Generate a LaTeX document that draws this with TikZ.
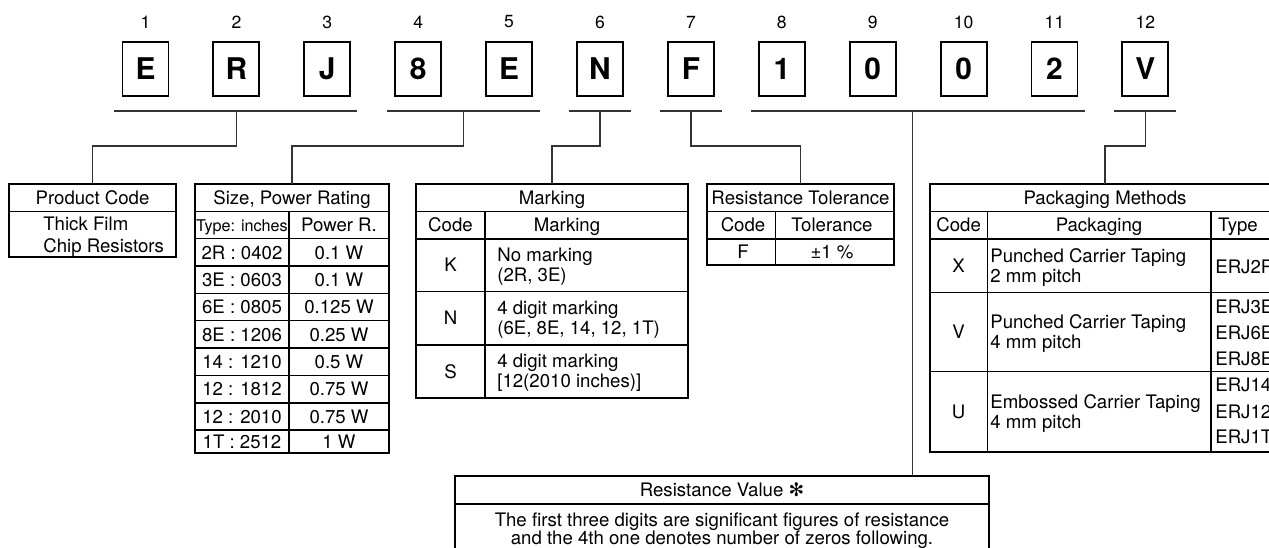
\documentclass[tikz,border=0pt]{standalone}
\usepackage{fontspec}
\setmainfont{TeX Gyre Heros}
\newfontfamily\symfont{DejaVu Sans}
\usetikzlibrary{calc}

\begin{document}
\begin{tikzpicture}[x=0.02cm,y=-0.02cm,
  codebox/.style={draw,line width=1.1pt,minimum width=0.92cm,minimum height=1.08cm,
    inner sep=0pt,font=\fontsize{17}{17}\selectfont\bfseries},
  posnum/.style={inner sep=0pt,font=\fontsize{10}{10}\selectfont},
  frame/.style={draw,line width=1.05pt,anchor=north west,inner sep=0pt,outer sep=0pt},
  rule/.style={line width=0.8pt},
  link/.style={line width=0.7pt,black!80},
  cell/.style={inner sep=0pt,text height=7.6pt,text depth=0pt,font=\fontsize{10.6}{12}\selectfont},
  lcell/.style={cell,anchor=west}]

  \useasboundingbox (0,0) rectangle (1269,548);
  \clip (0,0) rectangle (1269,548);

  % code characters and their positions
  \foreach \ch [count=\i] in {E,R,J,8,E,N,F,1,0,0,2,V} {
    \node[codebox] (c\i) at ({145.5+90.9*(\i-1)},69) {\ch};
    \node[posnum] (p\i) at ({145.5+90.9*(\i-1)},22) {\i};
  }

  % brackets under the groups
  \coordinate (ul) at (0,111);
  \draw[link] ($(c1.west|-ul)+(-8,0)$) -- ($(c3.east|-ul)+(6,0)$);
  \draw[link] ($(c4.west|-ul)+(-7,0)$) -- ($(c5.east|-ul)+(7,0)$);
  \draw[link] ($(c6.west|-ul)+(-7,0)$) -- ($(c6.east|-ul)+(7,0)$);
  \draw[link] ($(c7.west|-ul)+(-7,0)$) -- ($(c7.east|-ul)+(7,0)$);
  \draw[link] ($(c8.west|-ul)+(-7,0)$) -- ($(c11.east|-ul)+(7,0)$);
  \draw[link] ($(c12.west|-ul)+(-7,0)$) -- ($(c12.east|-ul)+(7,0)$);

  % table frames
  \node[frame,minimum width=3.34cm,minimum height=1.46cm] (prod) at (9,184) {};
  \node[frame,minimum width=3.88cm,minimum height=5.38cm] (size) at (195,184) {};
  \node[frame,minimum width=5.44cm,minimum height=4.28cm] (mark) at (416,184) {};
  \node[frame,minimum width=3.74cm,minimum height=1.62cm] (tol) at (707,184) {};
  \node[frame,minimum width=7.0cm,minimum height=5.36cm] (pack) at (930,184) {};
  \node[frame,minimum width=10.68cm,minimum height=2.0cm] (res) at (455,476) {};

  % connectors
  \coordinate (g2) at ($(c4|-ul)!0.5!(c5|-ul)$);
  \coordinate (g5) at ($(c9|-ul)!0.44!(c10|-ul)$);
  \draw[link] (c2|-ul) -- ++(0,35) -| (prod.north);
  \draw[link] (g2) -- ++(0,35) -| (size.north);
  \draw[link] (c6|-ul) -- ++(0,35) -| (mark.north);
  \draw[link] (c7|-ul) -- ++(0,35) -| (tol.north);
  \draw[link] (g5) -- (g5|-res.north);
  \draw[link] (c12|-ul) -- ++(0,35) -| (pack.north);

  % product code
  \draw[rule] (9,211.7) -- (176,211.7);
  \node[cell] (prodh) at (92.5,198) {Product Code};
  \node[lcell] (prod1) at (43,224) {Thick Film};
  \node[lcell] (prod2) at (43,246) {Chip Resistors};

  % size, power rating
  \foreach \k in {1,...,9}
    \draw[rule] (195,{184+27.35*\k}) -- (389,{184+27.35*\k});
  \draw[rule] (289,211.35) -- (289,453);
  \node[cell] (sizeh) at (292,198) {Size, Power Rating};
  \node[cell,font=\fontsize{9.2}{10}\selectfont] (sizet) at (242,225) {Type: inches};
  \node[cell] (sizep) at (339,225) {Power R.};
  \foreach \t/\p [count=\k from 2] in {2R : 0402/0.1 W,3E : 0603/0.1 W,
      6E : 0805/0.125 W,8E : 1206/0.25 W,14 : 1210/0.5 W,12 : 1812/0.75 W,
      12 : 2010/0.75 W,1T : 2512/1 W} {
    \node[cell] (st\k) at (242,{min(184+27.35*(\k+0.5),441.5)}) {\t};
    \node[cell] (sp\k) at (339,{min(184+27.35*(\k+0.5),441.5)}) {\p};
  }

  % marking
  \foreach \y in {211.7,239,291.7,345}
    \draw[rule] (416,\y) -- (688,\y);
  \draw[rule] (485,211.7) -- (485,398);
  \node[cell] (markh) at (552,198) {Marking};
  \node[cell] (markc) at (450.5,225) {Code};
  \node[cell] (markm) at (567,225) {Marking};
  \node[cell] (mk1) at (450.5,265.3) {K};
  \node[lcell] (mk1a) at (497,255) {No marking};
  \node[lcell] (mk1b) at (497,275) {(2R, 3E)};
  \node[cell] (mk2) at (450.5,318.3) {N};
  \node[lcell] (mk2a) at (497,308) {4 digit marking};
  \node[lcell] (mk2b) at (497,328) {(6E, 8E, 14, 12, 1T)};
  \node[cell] (mk3) at (450.5,371.5) {S};
  \node[lcell] (mk3a) at (497,361) {4 digit marking};
  \node[lcell] (mk3b) at (497,381) {[12(2010 inches)]};

  % resistance tolerance
  \draw[rule] (707,211.7) -- (894,211.7);
  \draw[rule] (707,239) -- (894,239);
  \draw[rule] (775.7,211.7) -- (775.7,265);
  \node[cell] (tolh) at (800.5,198) {Resistance Tolerance};
  \node[cell] (tolc) at (743,225) {Code};
  \node[cell] (tolt) at (832,225) {Tolerance};
  \node[cell] (tol1) at (743,252) {F};
  \node[cell] (tol2) at (832,252) {±1 \%};

  % packaging methods
  \foreach \y in {211.7,239,292.3,371.7}
    \draw[rule] (930,\y) -- (1280,\y);
  \draw[rule] (987.3,211.7) -- (987.3,452);
  \draw[rule] (1211,211.7) -- (1211,452);
  \node[cell] (packh) at (1105,198) {Packaging Methods};
  \node[cell] (packc) at (958.6,225) {Code};
  \node[cell] (packp) at (1099,225) {Packaging};
  \node[cell] (packt) at (1238,225) {Type};
  \node[cell] (pk1) at (958.6,265.7) {X};
  \node[lcell] (pk1a) at (990,256) {Punched Carrier Taping};
  \node[lcell] (pk1b) at (990,276) {2 mm pitch};
  \node[lcell] (pt1) at (1215,266.7) {ERJ2R};
  \node[cell] (pk2) at (958.6,332) {V};
  \node[lcell] (pk2a) at (990,322) {Punched Carrier Taping};
  \node[lcell] (pk2b) at (990,342) {4 mm pitch};
  \node[lcell] (pt2) at (1215,306.7) {ERJ3E};
  \node[lcell] (pt3) at (1215,333.3) {ERJ6E};
  \node[lcell] (pt4) at (1215,359.3) {ERJ8E};
  \node[cell] (pk3) at (958.6,411.8) {U};
  \node[lcell] (pk3a) at (990,402) {Embossed Carrier Taping};
  \node[lcell] (pk3b) at (990,422) {4 mm pitch};
  \node[lcell] (pt5) at (1215,385) {ERJ14};
  \node[lcell] (pt6) at (1215,411.7) {ERJ12};
  \node[lcell] (pt7) at (1215,436.7) {ERJ1T};

  % resistance value
  \draw[rule] (455,504) -- (989,504);
  \node[cell] (resh) at (722,490) {Resistance Value {\symfont ✻}};
  \node[cell] (res1) at (722,520) {The first three digits are significant figures of resistance};
  \node[cell] (res2) at (722,538) {and the 4th one denotes number of zeros following.};

\end{tikzpicture}
\end{document}
